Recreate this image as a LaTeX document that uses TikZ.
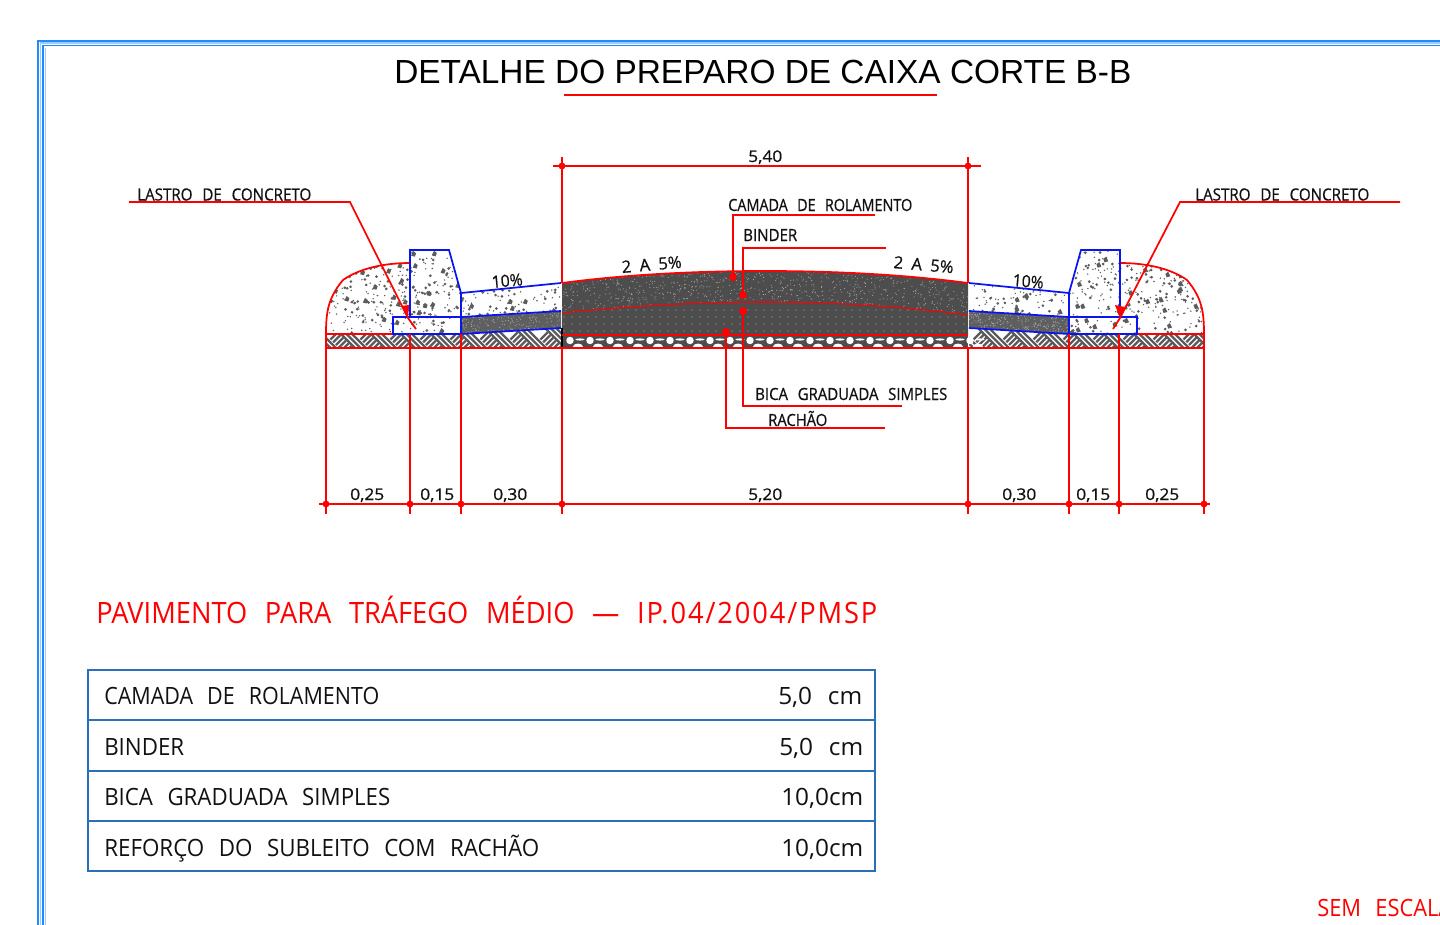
\documentclass[tikz,border=0pt]{standalone}
\usepackage{fontspec}
\usepackage{graphicx}
\setmainfont{Liberation Sans}
\newfontfamily\cad{Open Sans}
\newfontfamily\cadb[FakeBold=0.7]{Open Sans}
\newdimen\px \px=0.75pt
\definecolor{framec}{HTML}{1E8CFF}
\definecolor{framel}{HTML}{9CCBFF}
\definecolor{tablec}{HTML}{2A70B8}
\definecolor{rd}{HTML}{FF0000}
\definecolor{bl}{HTML}{0A14F0}
\definecolor{dk}{HTML}{4D4D4D}
\definecolor{spk}{HTML}{5C5C5C}
\definecolor{hatchc}{HTML}{5A5A5A}
\definecolor{ink}{HTML}{111111}
% width and cap height both in picture pixels
\newcommand{\fitw}[3]{\resizebox{#1\px}{#2\px}{\rule{0pt}{7.14pt}\smash{\cad\fontsize{10pt}{12pt}\selectfont #3}}}
\newcommand{\fitb}[3]{\resizebox{#1\px}{#2\px}{\rule{0pt}{7.14pt}\smash{\cadb\fontsize{10pt}{12pt}\selectfont #3}}}
\newcommand{\ds}{\hspace{6.5pt}}
\tikzset{
  lbl/.style={inner sep=0pt,anchor=base west,text=ink},
  redlbl/.style={inner sep=0pt,anchor=base west,text=rd},
  redln/.style={draw=rd,line width=1.3pt},
  thinred/.style={draw=rd,line width=1.1pt},
  blueln/.style={draw=bl,line width=1.3pt,line join=miter},
  tbl/.style={draw=tablec,line width=1.2pt},
  hs/.style={draw=hatchc,line width=1.7pt},
}
\newcommand{\speck}[5]{%
  \pgfmathtruncatemacro{\nb}{#1/2}\pgfmathtruncatemacro{\nc}{#1/7}%
  \foreach \i in {1,...,#1}{\fill[spk] ({#2+rnd*#3},{#4+rnd*#5}) circle[radius=0.6pt];}%
  \foreach \i in {1,...,\nb}{\fill[spk] ({#2+rnd*#3},{#4+rnd*#5}) circle[radius=1.1pt];}%
  \foreach \i in {1,...,\nc}{\fill[spk] ({#2+rnd*#3},{#4+rnd*#5}) ++(-2.2,1.8) -- ++(3.8,1) -- ++(1.2,-3.4) -- ++(-2.8,-2.2) -- cycle;}%
}
% herringbone tiles
\newcommand{\hatchstrip}[2]{%
  \foreach \k in {0,...,9}{%
    \pgfmathsetmacro{\xx}{#1-22+\k*30}%
    \foreach \o in {0,5.5,11}{\draw[hs] ({\xx+\o},327) -- ({\xx+\o+21},348);}%
    \begin{scope}
      \clip ({\xx+14},327) -- ({\xx+28.5},327) -- ({\xx+49.5},348) -- ({\xx+35},348) -- cycle;
      \foreach \t in {0,...,9}{\draw[hs] ({\xx+18+\t*5.5},348) -- ({\xx+39+\t*5.5},327);}%
    \end{scope}
  }%
}
\newcommand{\halfsec}[1]{%
  \pgfmathsetseed{#1}%
  \begin{scope}
    \clip (326,334) .. controls (326,312) and (328,298) .. (343,280) .. controls (360,268) and (385,263) .. (410,263) -- (410,317) -- (393,317) -- (393,334) -- cycle;
    \speck{110}{328}{82}{265}{68}
  \end{scope}
  \begin{scope}
    \clip (410,250) -- (449,250) -- (461,293) -- (461,334) -- (393,334) -- (393,317) -- (410,317) -- cycle;
    \speck{100}{394}{67}{251}{83}
  \end{scope}
  \begin{scope}
    \clip (461,293) -- (561,283) -- (561,311) -- (461,317) -- cycle;
    \speck{50}{461}{100}{285}{32}
  \end{scope}
  \fill[dk!90!white] (461,317) -- (561,311) -- (561,328) -- (461,334) -- cycle;
  \begin{scope}
    \clip (461,317) -- (561,311) -- (561,328) -- (461,334) -- cycle;
    \foreach \i in {1,...,260}{\fill[white!55!dk] ({461+rnd*100},{311+rnd*23}) circle[radius=0.4pt];}
  \end{scope}
  \draw[redln] (326,348) -- (326,334) .. controls (326,312) and (328,298) .. (343,280) .. controls (360,268) and (385,263) .. (410,263);
  \draw[redln] (326,334) -- (393,334);
  \draw[blueln] (393,317) rectangle (461,334);
  \draw[blueln] (410,317) -- (410,250) -- (449,250) -- (461,293) -- (461,317);
  \draw[blueln] (461,293) -- (561,283);
  \draw[blueln] (461,317) -- (561,311);
  \draw[blueln] (461,334) -- (561,328);
}
\begin{document}
\begin{tikzpicture}[x=0.75pt,y=-0.75pt]
\useasboundingbox (0,0) rectangle (1440,925);
\clip (0,0) rectangle (1440,925);
% frame
\draw[framel,line width=0.9pt] (40.5,925) -- (40.5,43) -- (1440,43);
\draw[framel,line width=0.7pt] (45.5,925) -- (45.5,47.5);
\draw[framec,line width=1.3pt] (38,925) -- (38,41) -- (1440,41);
\draw[framec,line width=1.3pt] (43,925) -- (43,45.5) -- (1440,45.5);
% title
\node[inner sep=0pt,anchor=base west,text=black] (title) at (394,83) {\resizebox{737\px}{!}{DETALHE DO PREPARO DE CAIXA CORTE B-B}};
\coordinate (ulA) at (564,95); \coordinate (ulB) at (937,95);
\draw[redln] (ulA) -- (ulB);
% ground hatch strip, both outer parts
\begin{scope}
  \clip (326,334) -- (461,334) -- (561,328) -- (561,348) -- (326,348) -- cycle;
  \hatchstrip{326}{562}
\end{scope}
\begin{scope}
  \clip (1204,334) -- (1069,334) -- (969,328) -- (969,348) -- (1204,348) -- cycle;
  \hatchstrip{969}{1204}
\end{scope}
% central block
\fill[dk] (562,283) .. controls (630,274) and (700,271) .. (765,271) .. controls (830,271) and (900,274) .. (968,283) -- (968,335) -- (562,335) -- cycle;
\pgfmathsetseed{7}
\begin{scope}
  \clip (562,283) .. controls (630,274) and (700,271) .. (765,271) .. controls (830,271) and (900,274) .. (968,283) -- (968,315) .. controls (900,306) and (830,302) .. (765,302) .. controls (700,302) and (630,306) .. (562,313) -- cycle;
  \foreach \i in {1,...,1100}{\fill[white!55!dk] ({562+rnd*406},{271+rnd*44}) circle[radius=0.38pt];}
\end{scope}
\begin{scope}
  \clip (562,313) .. controls (630,306) and (700,302) .. (765,302) .. controls (830,302) and (900,306) .. (968,315) -- (968,335) -- (562,335) -- cycle;
  \foreach \r in {0,1,2,3}{\foreach \k in {0,...,51}{\fill[white!55!dk] ({564+\k*8},{310+\r*7}) circle[radius=0.55pt];}}
\end{scope}
% rachao band
\fill[dk] (562,335) rectangle (968,348);
\foreach \k in {0,...,20}{%
  \fill[white] ({570+\k*20},340.5) circle[radius=2.8pt];
  \fill[white] ({580+\k*20},339.5) ellipse[x radius=3.4pt,y radius=0.8pt];
  \fill[white] ({578+\k*20},347) ellipse[x radius=3.8pt,y radius=2.6pt];
}
\draw[black,line width=1pt] (562,328) -- (562,348);
% curves over block
\draw[redln] (562,283) .. controls (630,274) and (700,271) .. (765,271) .. controls (830,271) and (900,274) .. (968,283);
\draw[draw=rd,line width=0.8pt] (562,313) .. controls (630,306) and (700,302) .. (765,302) .. controls (830,302) and (900,306) .. (968,315);
\draw[redln] (562,335) -- (968,335);
\draw[redln] (326,348) -- (1204,348);
% half sections
\halfsec{3}
\begin{scope}[shift={(1530,0)},xscale=-1]
\halfsec{11}
\end{scope}
% dimension verticals
\foreach \x in {326,410,461,1069,1119,1204}{\draw[thinred] (\x,348) -- (\x,514);\fill[rd] (\x,504) circle[radius=2.6pt];}
\foreach \x in {562,968}{\draw[thinred] (\x,157) -- (\x,283); \draw[thinred] (\x,348) -- (\x,514);\fill[rd] (\x,504) circle[radius=2.6pt];\fill[rd] (\x,166) circle[radius=2.6pt];}
\foreach \x in {410,461,1069,1119}{\draw[thinred] (\x,334) -- (\x,348);}
\coordinate (dtA) at (553,166); \coordinate (dtB) at (981,166);
\coordinate (dbA) at (319,504); \coordinate (dbB) at (1210,504);
\draw[redln] (dtA) -- (dtB);
\draw[redln] (dbA) -- (dbB);
% dimension labels
\node[lbl] (d540) at (748,162) {\fitb{34}{11.5}{5,40}};
\node[lbl] (d1) at (350,500) {\fitb{34}{11.5}{0,25}};
\node[lbl] (d2) at (420,500) {\fitb{34}{11.5}{0,15}};
\node[lbl] (d3) at (493,500) {\fitb{34}{11.5}{0,30}};
\node[lbl] (d4) at (748,500) {\fitb{34}{11.5}{5,20}};
\node[lbl] (d5) at (1002,500) {\fitb{34}{11.5}{0,30}};
\node[lbl] (d6) at (1076,500) {\fitb{34}{11.5}{0,15}};
\node[lbl] (d7) at (1145,500) {\fitb{34}{11.5}{0,25}};
% slope labels
\node[lbl,rotate=5] (s1) at (492,288) {\fitb{31}{12}{10\%}};
\node[lbl,rotate=-5] (s2) at (1012,286) {\fitb{31}{12}{10\%}};
\node[lbl,rotate=5] (s3) at (622,273) {\fitb{60}{12}{2\hspace{5pt}A\hspace{5pt}5\%}};
\node[lbl,rotate=-5] (s4) at (893,268) {\fitb{60}{12}{2\hspace{5pt}A\hspace{5pt}5\%}};
% left and right leaders
\node[lbl] (lcL) at (137,200.5) {\fitb{174}{12}{LASTRO\ds DE\ds CONCRETO}};
\node[lbl] (lcR) at (1195,200.5) {\fitb{174}{12}{LASTRO\ds DE\ds CONCRETO}};
\coordinate (lA) at (129,202); \coordinate (lB) at (350,202); \coordinate (lC) at (408,318); \coordinate (lD) at (416,329);
\coordinate (rA) at (1400,202); \coordinate (rB) at (1180,202); \coordinate (rC) at (1120,318); \coordinate (rD) at (1113,329);
\draw[redln] (lA) -- (lB) -- (lC) -- (lD);
\draw[redln] (rA) -- (rB) -- (rC) -- (rD);
\fill[rd] (408,318) -- (401,306) -- (409,305) -- cycle;
\fill[rd] (1120,318) -- (1115,305) -- (1125,307) -- cycle;
% centre leaders
\node[lbl] (cam) at (728,211) {\fitb{184}{12}{CAMADA\ds DE\ds ROLAMENTO}};
\node[lbl] (bin) at (743,241) {\fitb{54}{12}{BINDER}};
\node[lbl] (bic) at (755,400) {\fitb{192}{12}{BICA\ds GRADUADA\ds SIMPLES}};
\node[lbl] (rac) at (768,426) {\fitb{59}{12}{RACHÃO}};
\coordinate (c1) at (875,215); \coordinate (c2) at (733,215); \coordinate (c3) at (733,277);
\coordinate (b1) at (886,248); \coordinate (b2) at (743,248); \coordinate (b3) at (743,295);
\coordinate (g1) at (902,406); \coordinate (g2) at (743,406); \coordinate (g3) at (743,311);
\coordinate (h1) at (885,428); \coordinate (h2) at (726,428); \coordinate (h3) at (726,332);
\draw[redln] (c1) -- (c2) -- (c3);
\draw[redln] (b1) -- (b2) -- (b3);
\draw[redln] (g1) -- (g2) -- (g3);
\draw[redln] (h1) -- (h2) -- (h3);
\foreach \p in {c3,b3,g3,h3}{\fill[rd] (\p) circle[radius=3pt];}
% pavement heading
\node[redlbl] (pav) at (96,623) {\fitw{781}{21}{PAVIMENTO\ds PARA\ds TRÁFEGO\ds MÉDIO\ds —\ds {\addfontfeatures{LetterSpace=7}IP.04/2004/PMSP}}};
% table
\draw[tbl] (88,670) rectangle (875,871);
\draw[tbl] (88,720) -- (875,720);
\draw[tbl] (88,771) -- (875,771);
\draw[tbl] (88,821) -- (875,821);
\node[lbl] (t1) at (104,704.5) {\fitw{275}{17}{CAMADA\ds DE\ds ROLAMENTO}};
\node[lbl] (t2) at (104,755) {\fitw{80}{17}{BINDER}};
\node[lbl] (t3) at (104,805.5) {\fitw{286}{17}{BICA\ds GRADUADA\ds SIMPLES}};
\node[lbl] (t4) at (104,856) {\fitw{435}{17}{REFORÇO\ds DO\ds SUBLEITO\ds COM\ds RACHÃO}};
\node[lbl] (v1) at (778,704) {\fitw{84}{17}{5,0\ds cm}};
\node[lbl] (v2) at (779,755) {\fitw{84}{17}{5,0\ds cm}};
\node[lbl] (v3) at (781,805.5) {\fitw{82}{17}{10,0cm}};
\node[lbl] (v4) at (781,856) {\fitw{82}{17}{10,0cm}};
\node[redlbl] (esc) at (1317,916) {\fitw{135}{17}{SEM\ds ESCALA}};
\end{tikzpicture}
\end{document}
